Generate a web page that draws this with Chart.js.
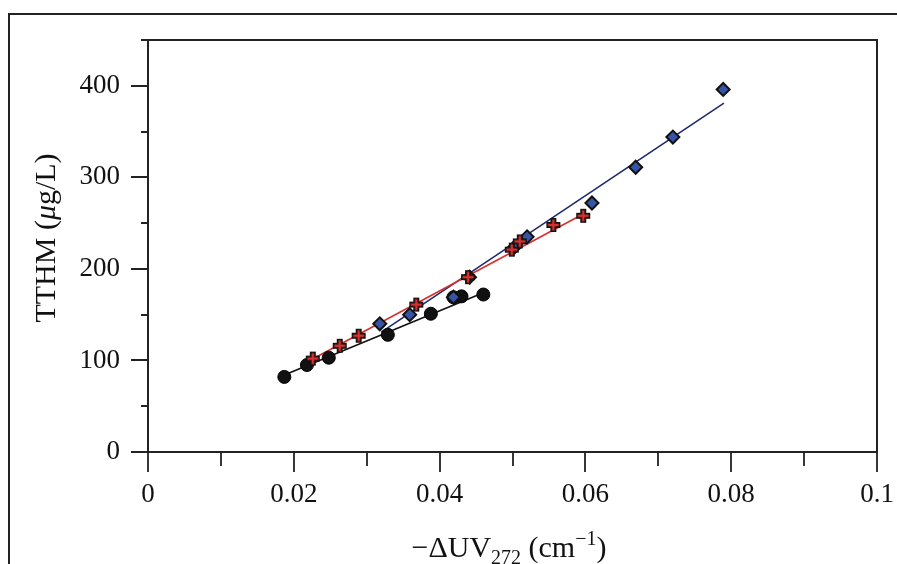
<!DOCTYPE html>
<html>
<head>
<meta charset="utf-8">
<script src="https://cdn.jsdelivr.net/npm/chart.js@4.4.0/dist/chart.umd.min.js"></script>
<style>
  html, body { margin: 0; padding: 0; background: #fff; }
  #wrap { width: 897px; height: 564px; }
</style>
</head>
<body>
<div id="wrap"><canvas id="chart-thm" width="897" height="564"></canvas></div>
<script>
// values (x = -dUV272 in cm-1, y = TTHM in ug/L)
var blackX = [0.0187, 0.0218, 0.0248, 0.0329, 0.0388, 0.0419, 0.0430, 0.0460];
var blackY = [82, 95, 103, 128, 151, 169, 170, 172];
var redX = [0.0226, 0.0263, 0.0289, 0.0368, 0.0439, 0.0499, 0.0510, 0.0556, 0.0597];
var redY = [102, 116, 127, 161, 191, 221, 230, 248, 258];
var blueX = [0.0318, 0.0359, 0.0419, 0.0441, 0.0503, 0.0520, 0.0609, 0.0669, 0.0720, 0.0789];
var blueY = [140, 150, 169, 191, 224, 235, 272, 311, 344, 396];

// fitted lines (start and end)
var blackFitX = [0.0187, 0.0460];
var blackFitY = [84, 174];
var redFitX = [0.0229, 0.0597];
var redFitY = [103, 260];
var blueFitX = [0.0320, 0.0790];
var blueFitY = [131, 381];

var xTicks = [0, 0.02, 0.04, 0.06, 0.08, 0.1];
var xTickLabels = ['0', '0.02', '0.04', '0.06', '0.08', '0.1'];
var yTicks = [0, 100, 200, 300, 400];

var serif = "'Liberation Serif', 'DejaVu Serif', serif";

function toPoints(xs, ys) {
    var pts = [];
    for (var i = 0; i < xs.length; i++) pts.push({x: xs[i], y: ys[i]});
    return pts;
}

// red plus marker with a dark outline
function makeCross() {
    var c = document.createElement('canvas');
    c.width = 16; c.height = 16;
    var g = c.getContext('2d');
    g.lineCap = 'butt';
    g.strokeStyle = '#111';
    g.lineWidth = 6;
    g.beginPath();
    g.moveTo(8, 1); g.lineTo(8, 15);
    g.moveTo(1, 8); g.lineTo(15, 8);
    g.stroke();
    g.strokeStyle = '#d8302c';
    g.lineWidth = 2.5;
    g.beginPath();
    g.moveTo(8, 2.5); g.lineTo(8, 13.5);
    g.moveTo(2.5, 8); g.lineTo(13.5, 8);
    g.stroke();
    return c;
}

function isMajor(list, v) {
    for (var i = 0; i < list.length; i++) {
        if (Math.abs(list[i] - v) < 1e-9) return true;
    }
    return false;
}

var framePlugin = {
    id: 'frame',
    beforeDraw: function(chart) {
        var ctx = chart.ctx;
        ctx.save();
        ctx.fillStyle = '#fff';
        ctx.fillRect(0, 0, chart.width, chart.height);
        ctx.strokeStyle = '#222';
        ctx.lineWidth = 2;
        ctx.strokeRect(9, 14, 900, 600);
        ctx.restore();
    },
    afterDraw: function(chart) {
        var ctx = chart.ctx;
        var a = chart.chartArea;
        var xs = chart.scales.x, ys = chart.scales.y;
        ctx.save();
        ctx.strokeStyle = '#222';
        ctx.lineWidth = 2;
        ctx.strokeRect(a.left, a.top, a.right - a.left, a.bottom - a.top);

        ctx.lineWidth = 1.8;
        ctx.beginPath();
        for (var v = 0; v <= 0.1001; v += 0.01) {
            var px = Math.round(xs.getPixelForValue(v));
            var len = isMajor(xTicks, Math.round(v * 100) / 100) ? 20 : 14;
            ctx.moveTo(px, a.bottom);
            ctx.lineTo(px, a.bottom + len);
        }
        for (var w = 0; w <= 450; w += 50) {
            var py = Math.round(ys.getPixelForValue(w));
            var l2 = isMajor(yTicks, w) ? 17 : 7;
            ctx.moveTo(a.left, py);
            ctx.lineTo(a.left - l2, py);
        }
        ctx.stroke();

        // x title: -dUV272 (cm-1)
        var main = '30px ' + serif, small = '20px ' + serif;
        var parts = [
            {t: '\u2212\u0394UV', f: main, dy: 0},
            {t: '272', f: small, dy: 7},
            {t: ' (cm', f: main, dy: 0},
            {t: '\u22121', f: small, dy: -12},
            {t: ')', f: main, dy: 0}
        ];
        var total = 0;
        parts.forEach(function(p) { ctx.font = p.f; p.w = ctx.measureText(p.t).width; total += p.w; });
        var x0 = 509 - total / 2, base = 557;
        ctx.fillStyle = '#111';
        ctx.textBaseline = 'alphabetic';
        ctx.textAlign = 'left';
        parts.forEach(function(p) { ctx.font = p.f; ctx.fillText(p.t, x0, base + p.dy); x0 += p.w; });

        // y title: TTHM (ug/L), mu in italic
        var yparts = [
            {t: 'TTHM (', f: main},
            {t: '\u03bc', f: 'italic ' + main},
            {t: 'g/L)', f: main}
        ];
        var ytotal = 0;
        yparts.forEach(function(p) { ctx.font = p.f; p.w = ctx.measureText(p.t).width; ytotal += p.w; });
        ctx.translate(55, 238);
        ctx.rotate(-Math.PI / 2);
        var y0 = -ytotal / 2;
        yparts.forEach(function(p) { ctx.font = p.f; ctx.fillText(p.t, y0, 0); y0 += p.w; });
        ctx.restore();
    }
};

var crossImg = makeCross();

var data = {
    datasets: [
        {
            label: 'fit black', type: 'line', data: toPoints(blackFitX, blackFitY),
            borderColor: '#111', borderWidth: 1.6, pointRadius: 0, fill: false, order: 5
        },
        {
            label: 'fit red', type: 'line', data: toPoints(redFitX, redFitY),
            borderColor: '#d8302c', borderWidth: 1.6, pointRadius: 0, fill: false, order: 4
        },
        {
            label: 'fit blue', type: 'line', data: toPoints(blueFitX, blueFitY),
            borderColor: '#1e2a6a', borderWidth: 1.6, pointRadius: 0, fill: false, order: 6
        },
        {
            label: 'black', data: toPoints(blackX, blackY),
            pointStyle: 'circle', pointRadius: 6.5, backgroundColor: '#111', borderColor: '#000', borderWidth: 1, order: 3
        },
        {
            label: 'blue', data: toPoints(blueX, blueY),
            pointStyle: 'rectRot', pointRadius: 6.5, backgroundColor: '#3554a5', borderColor: '#111', borderWidth: 2, order: 2
        },
        {
            label: 'red', data: toPoints(redX, redY),
            pointStyle: crossImg, pointRadius: 8, order: 1
        }
    ]
};

var options = {
    responsive: false,
    animation: false,
    layout: { padding: { left: 0, top: 40, right: 20, bottom: 0 } },
    plugins: { legend: { display: false }, tooltip: { enabled: false } },
    scales: {
        x: {
            type: 'linear', min: 0, max: 0.1,
            afterFit: function(s) { s.height = 112; s.paddingLeft = 0; s.paddingRight = 0; },
            afterBuildTicks: function(s) { s.ticks = xTicks.map(function(v) { return {value: v}; }); },
            grid: { display: false, drawTicks: false },
            border: { display: false },
            ticks: {
                padding: 27, color: '#111', font: { family: serif, size: 27 },
                maxRotation: 0, autoSkip: false,
                callback: function(v) { var i = xTicks.indexOf(v); return i >= 0 ? xTickLabels[i] : ''; }
            }
        },
        y: {
            type: 'linear', min: 0, max: 450,
            afterFit: function(s) { s.width = 148; s.paddingTop = 0; s.paddingBottom = 0; },
            afterBuildTicks: function(s) { s.ticks = yTicks.map(function(v) { return {value: v}; }); },
            grid: { display: false, drawTicks: false },
            border: { display: false },
            ticks: { padding: 28, color: '#111', font: { family: serif, size: 27 } }
        }
    }
};

var ctx = document.getElementById('chart-thm').getContext('2d');
var thmChart = new Chart(ctx, { type: 'scatter', data: data, options: options, plugins: [framePlugin] });
</script>
</body>
</html>
